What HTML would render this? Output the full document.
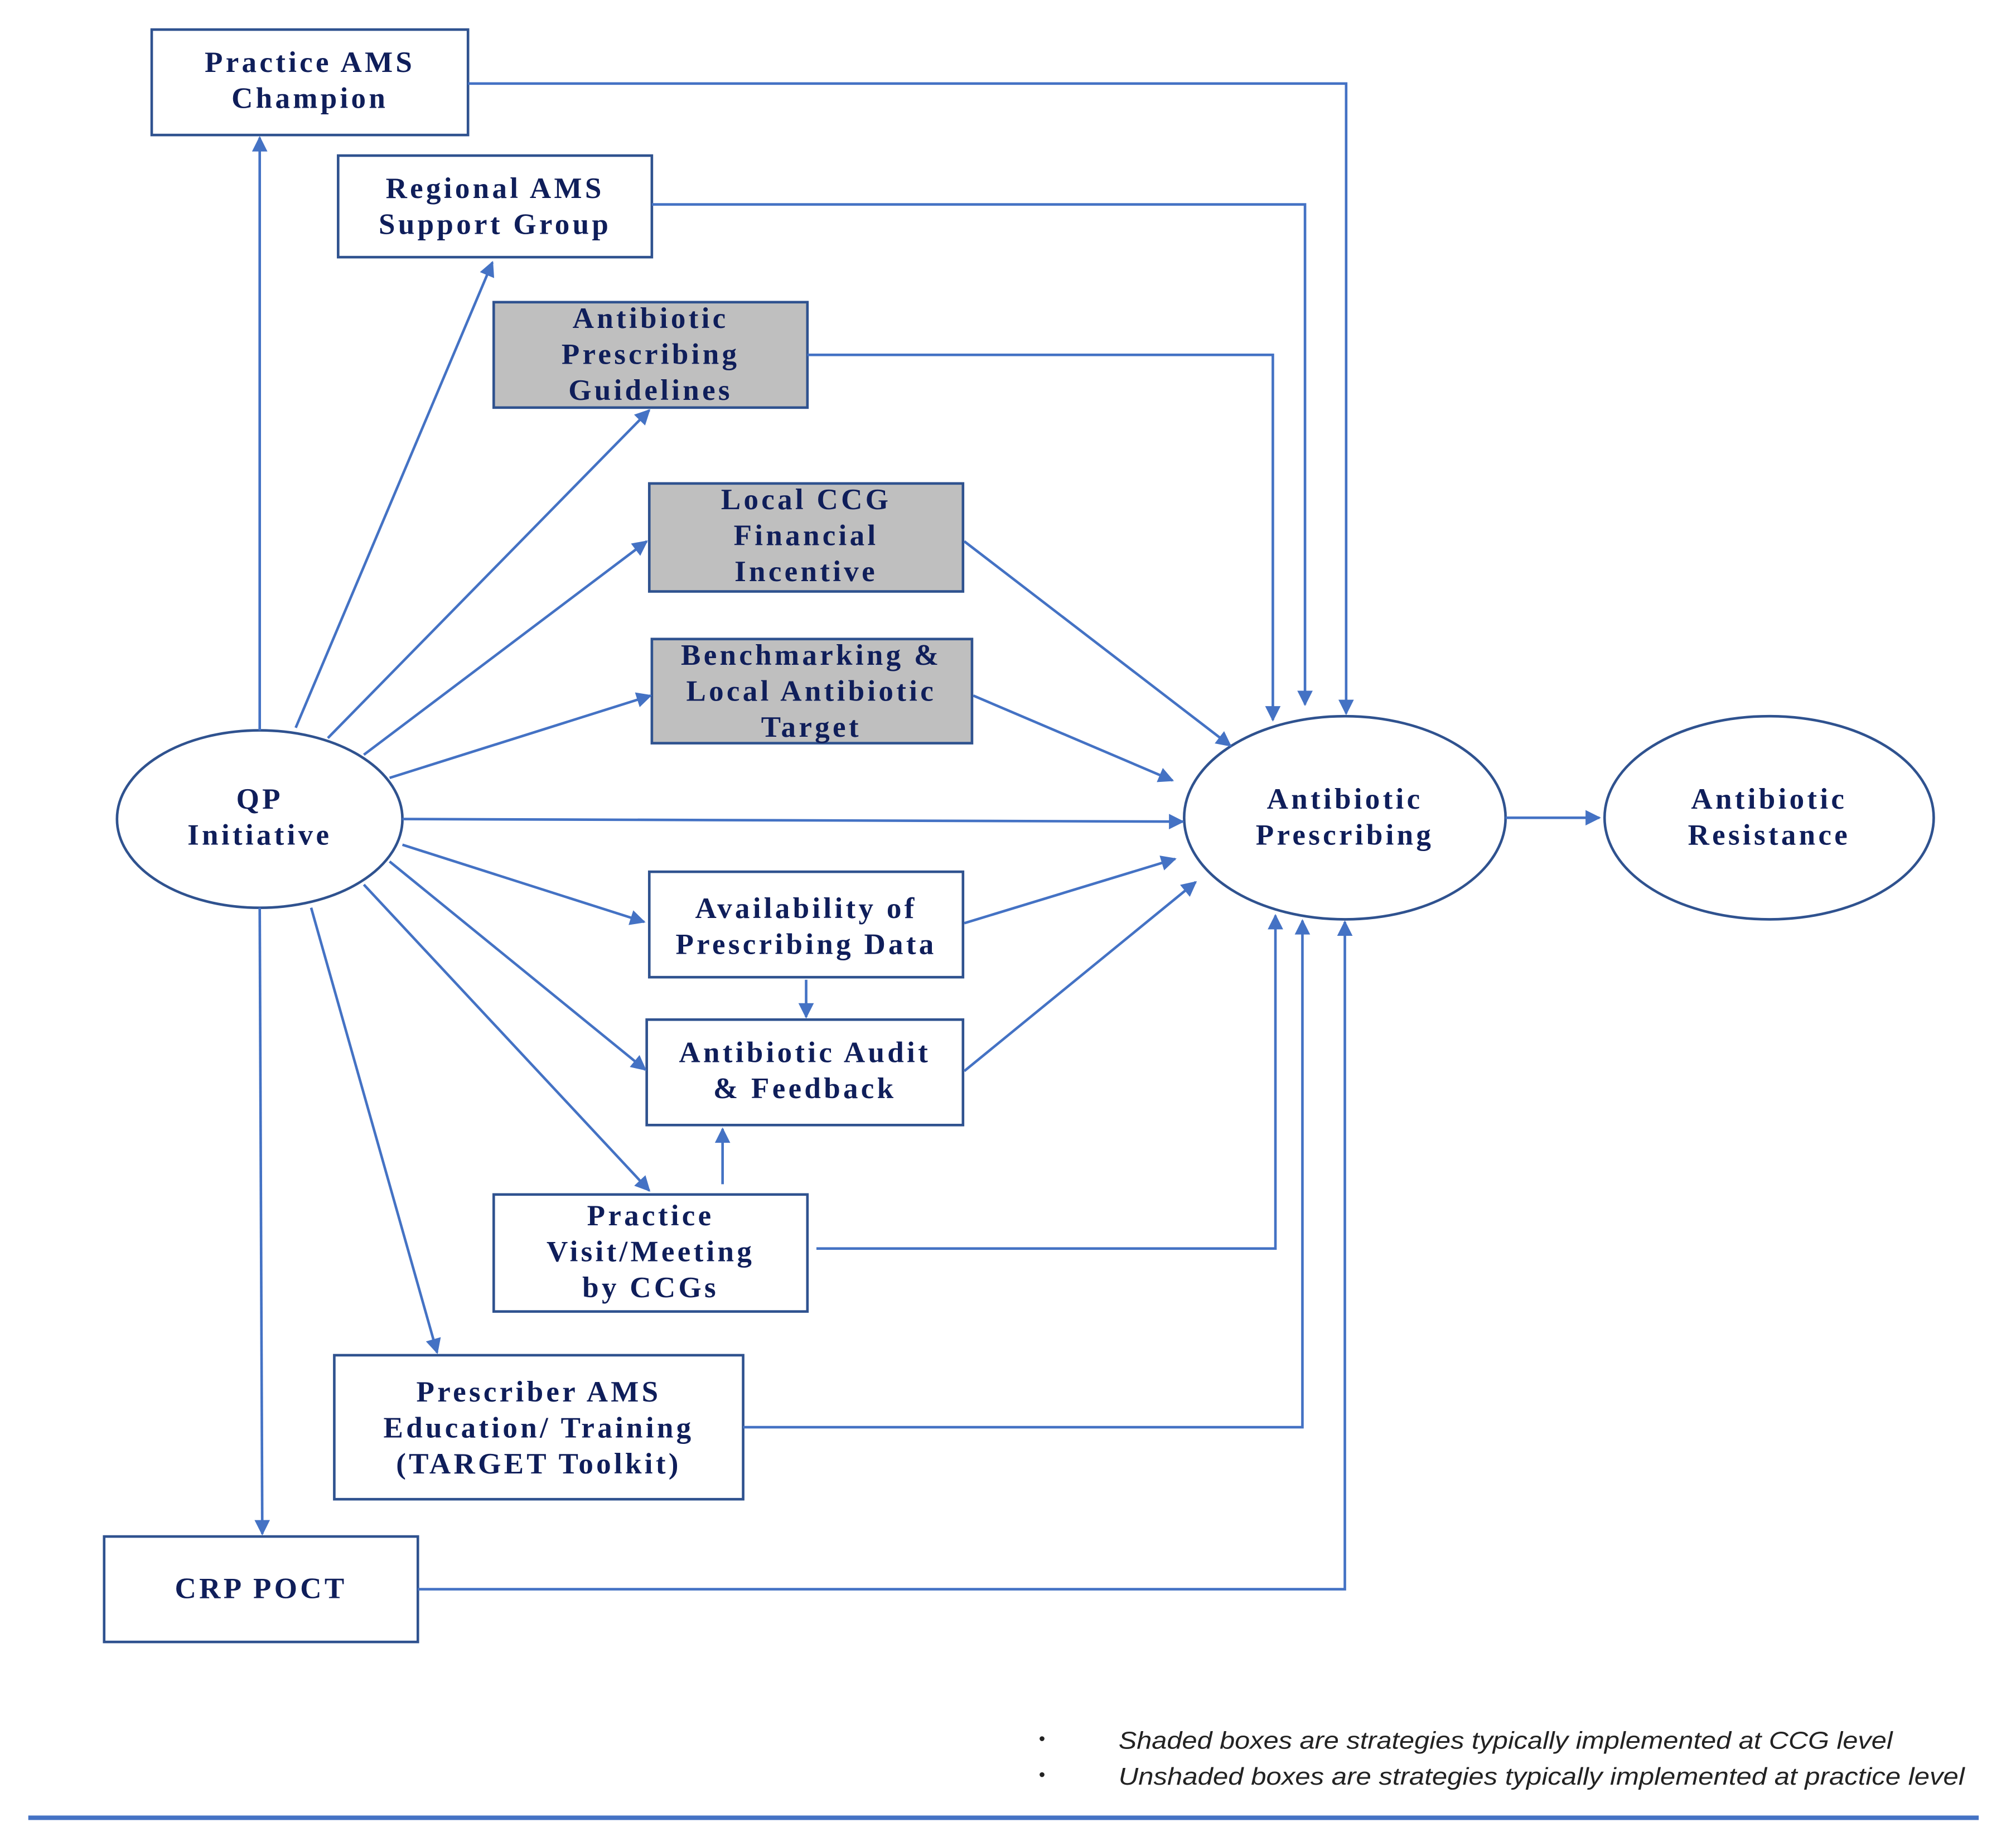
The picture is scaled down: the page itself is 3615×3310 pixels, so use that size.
<!DOCTYPE html>
<html><head><meta charset="utf-8"><style>html,body{margin:0;padding:0;background:#fff}svg{display:block}</style></head>
<body>
<svg width="3615" height="3310" viewBox="0 0 1568 1435.7" xmlns="http://www.w3.org/2000/svg">
<defs>
<marker id="m" viewBox="0 0 10 10" refX="9" refY="5" markerWidth="14" markerHeight="12" orient="auto" markerUnits="userSpaceOnUse"><path d="M0,0L10,5L0,10z" fill="#4472C4"/></marker></defs>
<rect width="1568" height="1436" fill="#fff"/>
<g stroke="#2F528F" stroke-width="2">
<rect x="118" y="23" width="246" height="82" fill="#fff"/>
<rect x="263" y="121" width="244" height="79" fill="#fff"/>
<rect x="384" y="235" width="244" height="82" fill="#BFBFBF"/>
<rect x="505" y="376" width="244" height="84" fill="#BFBFBF"/>
<rect x="507" y="497" width="249" height="81" fill="#BFBFBF"/>
<rect x="505" y="678" width="244" height="82" fill="#fff"/>
<rect x="503" y="793" width="246" height="82" fill="#fff"/>
<rect x="384" y="929" width="244" height="91" fill="#fff"/>
<rect x="260" y="1054" width="318" height="112" fill="#fff"/>
<rect x="81" y="1195" width="244" height="82" fill="#fff"/>
<ellipse cx="202" cy="637" rx="111" ry="69" fill="#fff"/>
<ellipse cx="1046" cy="636" rx="125" ry="79" fill="#fff"/>
<ellipse cx="1376" cy="636" rx="128" ry="79" fill="#fff"/>
</g>
<g stroke="#4472C4" stroke-width="2" fill="none" marker-end="url(#m)">
<path d="M202,568V107"/>
<path d="M364,65H1047V555"/>
<path d="M230,566L383,204"/>
<path d="M507,159H1015V548"/>
<path d="M255,574L505,319"/>
<path d="M628,276H990V560"/>
<path d="M283,587L503,421"/>
<path d="M750,421L957,580"/>
<path d="M303,605L506,541"/>
<path d="M757,541L912,607"/>
<path d="M313,637L920,639"/>
<path d="M313,657L501,717"/>
<path d="M750,718L914,668"/>
<path d="M627,762V791"/>
<path d="M303,670L502,832"/>
<path d="M750,833L930,686"/>
<path d="M283,688L505,926"/>
<path d="M562,921V878"/>
<path d="M635,971H992V712"/>
<path d="M242,706L340,1052"/>
<path d="M578,1110H1013V716"/>
<path d="M202,706L204,1193"/>
<path d="M325,1236H1046V717"/>
<path d="M1171,636H1244"/>
</g>
<g font-family="'Liberation Serif',serif" font-weight="bold" font-size="23" letter-spacing="2.3" fill="#0F1E5A" text-anchor="middle">
<text x="241" y="56">Practice AMS</text><text x="241" y="84">Champion</text>
<text x="385" y="154">Regional AMS</text><text x="385" y="182">Support Group</text>
<text x="506" y="255">Antibiotic</text><text x="506" y="283">Prescribing</text><text x="506" y="311">Guidelines</text>
<text x="627" y="396">Local CCG</text><text x="627" y="424">Financial</text><text x="627" y="452">Incentive</text>
<text x="631" y="517">Benchmarking &amp;</text><text x="631" y="545">Local Antibiotic</text><text x="631" y="573">Target</text>
<text x="627" y="714">Availability of</text><text x="627" y="742">Prescribing Data</text>
<text x="626" y="826">Antibiotic Audit</text><text x="626" y="854">&amp; Feedback</text>
<text x="506" y="953">Practice</text><text x="506" y="981">Visit/Meeting</text><text x="506" y="1009">by CCGs</text>
<text x="419" y="1090">Prescriber AMS</text><text x="419" y="1118">Education/ Training</text><text x="419" y="1146">(TARGET Toolkit)</text>
<text x="203" y="1243">CRP POCT</text>
<text x="202" y="629">QP</text><text x="202" y="657">Initiative</text>
<text x="1046" y="629">Antibiotic</text><text x="1046" y="657">Prescribing</text>
<text x="1376" y="629">Antibiotic</text><text x="1376" y="657">Resistance</text>
</g>
<g font-family="'Liberation Sans',sans-serif" font-style="italic" font-size="19" fill="#222">
<text x="808" y="1357" font-style="normal" font-size="14">•</text>
<text x="808" y="1385" font-style="normal" font-size="14">•</text>
<text x="870" y="1360" textLength="602" lengthAdjust="spacingAndGlyphs">Shaded boxes are strategies typically  implemented at CCG level</text>
<text x="870" y="1388" textLength="658" lengthAdjust="spacingAndGlyphs">Unshaded boxes are strategies typically implemented at practice level</text>
</g>
<rect x="22" y="1412" width="1517" height="3.5" fill="#4472C4"/>
</svg>
</body></html>
